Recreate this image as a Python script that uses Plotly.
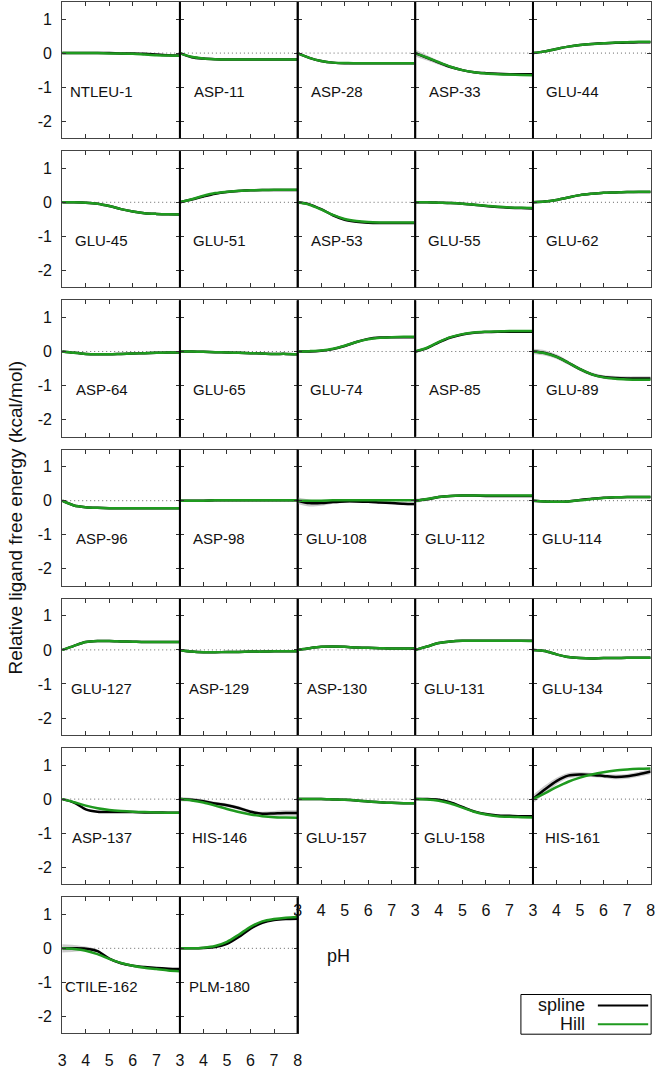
import plotly.graph_objects as go

# ---------------- data ----------------
ph = [3.0, 3.5, 4.0, 4.5, 5.0, 5.5, 6.0, 6.5, 7.0, 7.5, 8.0]

residues = ["NTLEU-1", "ASP-11", "ASP-28", "ASP-33", "GLU-44",
            "GLU-45", "GLU-51", "ASP-53", "GLU-55", "GLU-62",
            "ASP-64", "GLU-65", "GLU-74", "ASP-85", "GLU-89",
            "ASP-96", "ASP-98", "GLU-108", "GLU-112", "GLU-114",
            "GLU-127", "ASP-129", "ASP-130", "GLU-131", "GLU-134",
            "ASP-137", "HIS-146", "GLU-157", "GLU-158", "HIS-161",
            "CTILE-162", "PLM-180"]

spline = {
    "NTLEU-1": [0.00, 0.00, 0.00, 0.00, 0.00, -0.01, -0.01, -0.02, -0.04, -0.06, -0.07],
    "ASP-11": [0.00, -0.12, -0.16, -0.18, -0.19, -0.19, -0.19, -0.19, -0.19, -0.19, -0.19],
    "ASP-28": [0.00, -0.14, -0.23, -0.28, -0.30, -0.30, -0.30, -0.30, -0.30, -0.30, -0.30],
    "ASP-33": [0.00, -0.14, -0.28, -0.41, -0.50, -0.56, -0.59, -0.61, -0.62, -0.62, -0.62],
    "GLU-44": [0.00, 0.05, 0.12, 0.19, 0.24, 0.27, 0.29, 0.30, 0.31, 0.32, 0.32],
    "GLU-45": [0.00, 0.00, -0.01, -0.04, -0.11, -0.20, -0.27, -0.32, -0.34, -0.35, -0.36],
    "GLU-51": [0.00, 0.08, 0.17, 0.25, 0.30, 0.33, 0.35, 0.36, 0.36, 0.36, 0.36],
    "ASP-53": [0.00, -0.06, -0.20, -0.38, -0.51, -0.57, -0.60, -0.61, -0.61, -0.61, -0.61],
    "GLU-55": [0.00, 0.00, -0.01, -0.02, -0.04, -0.07, -0.11, -0.14, -0.16, -0.17, -0.18],
    "GLU-62": [0.00, 0.02, 0.07, 0.14, 0.21, 0.25, 0.28, 0.29, 0.30, 0.30, 0.30],
    "ASP-64": [0.00, -0.04, -0.07, -0.08, -0.08, -0.07, -0.06, -0.05, -0.04, -0.03, -0.03],
    "GLU-65": [0.00, 0.00, -0.01, -0.02, -0.03, -0.04, -0.05, -0.06, -0.07, -0.07, -0.08],
    "GLU-74": [0.00, 0.00, 0.02, 0.07, 0.16, 0.28, 0.37, 0.41, 0.42, 0.42, 0.42],
    "ASP-85": [0.00, 0.10, 0.27, 0.41, 0.50, 0.55, 0.57, 0.58, 0.58, 0.58, 0.58],
    "GLU-89": [0.00, -0.04, -0.15, -0.33, -0.52, -0.67, -0.75, -0.78, -0.79, -0.79, -0.79],
    "ASP-96": [0.00, -0.14, -0.19, -0.21, -0.22, -0.22, -0.22, -0.22, -0.22, -0.22, -0.22],
    "ASP-98": [0.00, 0.00, 0.00, 0.01, 0.01, 0.01, 0.01, 0.01, 0.01, 0.01, 0.01],
    "GLU-108": [0.00, -0.07, -0.07, -0.04, -0.02, -0.02, -0.03, -0.05, -0.07, -0.09, -0.10],
    "GLU-112": [0.00, 0.04, 0.11, 0.14, 0.15, 0.15, 0.14, 0.14, 0.14, 0.14, 0.14],
    "GLU-114": [0.00, -0.02, -0.03, -0.02, 0.02, 0.06, 0.09, 0.10, 0.11, 0.11, 0.11],
    "GLU-127": [0.00, 0.12, 0.23, 0.26, 0.26, 0.25, 0.24, 0.23, 0.23, 0.23, 0.23],
    "ASP-129": [0.00, -0.05, -0.07, -0.07, -0.06, -0.06, -0.05, -0.05, -0.04, -0.04, -0.04],
    "ASP-130": [0.00, 0.05, 0.09, 0.10, 0.09, 0.07, 0.06, 0.05, 0.04, 0.04, 0.04],
    "GLU-131": [0.00, 0.10, 0.20, 0.25, 0.27, 0.27, 0.27, 0.27, 0.27, 0.27, 0.27],
    "GLU-134": [0.00, -0.03, -0.13, -0.21, -0.24, -0.25, -0.24, -0.24, -0.23, -0.23, -0.23],
    "ASP-137": [0.00, -0.10, -0.30, -0.37, -0.38, -0.38, -0.38, -0.39, -0.39, -0.40, -0.40],
    "HIS-146": [0.00, -0.02, -0.06, -0.13, -0.18, -0.26, -0.37, -0.43, -0.42, -0.41, -0.41],
    "GLU-157": [0.00, 0.00, 0.00, -0.01, -0.02, -0.04, -0.07, -0.09, -0.11, -0.12, -0.12],
    "GLU-158": [0.00, 0.00, -0.02, -0.10, -0.23, -0.36, -0.44, -0.48, -0.49, -0.50, -0.50],
    "HIS-161": [0.00, 0.28, 0.53, 0.69, 0.72, 0.71, 0.68, 0.65, 0.67, 0.73, 0.81],
    "CTILE-162": [0.00, 0.00, -0.01, -0.08, -0.30, -0.44, -0.51, -0.55, -0.58, -0.60, -0.61],
    "PLM-180": [0.00, 0.00, 0.01, 0.04, 0.13, 0.33, 0.58, 0.75, 0.83, 0.86, 0.87],
}

hill = {
    "NTLEU-1": [0.00, 0.00, 0.00, 0.00, -0.01, -0.01, -0.02, -0.04, -0.06, -0.07, -0.08],
    "ASP-11": [0.00, -0.11, -0.16, -0.18, -0.19, -0.19, -0.19, -0.19, -0.19, -0.19, -0.19],
    "ASP-28": [0.00, -0.14, -0.23, -0.28, -0.29, -0.30, -0.30, -0.30, -0.30, -0.30, -0.30],
    "ASP-33": [0.00, -0.13, -0.27, -0.40, -0.50, -0.56, -0.60, -0.62, -0.63, -0.64, -0.65],
    "GLU-44": [0.00, 0.05, 0.12, 0.19, 0.24, 0.27, 0.29, 0.31, 0.32, 0.33, 0.33],
    "GLU-45": [0.00, 0.00, -0.01, -0.04, -0.11, -0.20, -0.27, -0.32, -0.34, -0.35, -0.36],
    "GLU-51": [0.00, 0.09, 0.19, 0.27, 0.31, 0.34, 0.35, 0.36, 0.37, 0.37, 0.37],
    "ASP-53": [0.00, -0.07, -0.21, -0.37, -0.49, -0.55, -0.58, -0.59, -0.59, -0.59, -0.59],
    "GLU-55": [0.00, 0.00, -0.01, -0.02, -0.04, -0.07, -0.10, -0.13, -0.15, -0.16, -0.17],
    "GLU-62": [0.00, 0.02, 0.07, 0.14, 0.21, 0.25, 0.28, 0.29, 0.30, 0.31, 0.31],
    "ASP-64": [0.00, -0.04, -0.07, -0.08, -0.08, -0.07, -0.06, -0.05, -0.04, -0.03, -0.03],
    "GLU-65": [0.00, 0.00, -0.01, -0.02, -0.03, -0.04, -0.05, -0.06, -0.07, -0.07, -0.08],
    "GLU-74": [0.00, 0.01, 0.03, 0.08, 0.17, 0.28, 0.36, 0.40, 0.42, 0.43, 0.43],
    "ASP-85": [0.00, 0.11, 0.28, 0.42, 0.51, 0.56, 0.58, 0.59, 0.60, 0.60, 0.60],
    "GLU-89": [0.00, -0.05, -0.16, -0.33, -0.52, -0.67, -0.76, -0.80, -0.82, -0.83, -0.83],
    "ASP-96": [0.00, -0.14, -0.19, -0.21, -0.22, -0.22, -0.22, -0.22, -0.22, -0.22, -0.22],
    "ASP-98": [0.00, 0.00, 0.00, 0.01, 0.01, 0.01, 0.01, 0.01, 0.01, 0.01, 0.01],
    "GLU-108": [0.00, 0.00, 0.00, 0.01, 0.01, 0.01, 0.01, 0.01, 0.01, 0.01, 0.01],
    "GLU-112": [0.00, 0.05, 0.11, 0.14, 0.15, 0.15, 0.15, 0.15, 0.15, 0.15, 0.15],
    "GLU-114": [0.00, -0.02, -0.03, -0.02, 0.01, 0.05, 0.08, 0.10, 0.11, 0.11, 0.11],
    "GLU-127": [0.00, 0.12, 0.23, 0.26, 0.26, 0.25, 0.24, 0.23, 0.23, 0.23, 0.23],
    "ASP-129": [0.00, -0.05, -0.07, -0.07, -0.06, -0.06, -0.05, -0.05, -0.04, -0.04, -0.04],
    "ASP-130": [0.00, 0.05, 0.09, 0.10, 0.09, 0.07, 0.06, 0.05, 0.04, 0.04, 0.04],
    "GLU-131": [0.00, 0.10, 0.20, 0.25, 0.27, 0.27, 0.27, 0.27, 0.27, 0.27, 0.26],
    "GLU-134": [0.00, -0.03, -0.13, -0.21, -0.24, -0.25, -0.24, -0.24, -0.23, -0.23, -0.23],
    "ASP-137": [0.00, -0.09, -0.19, -0.27, -0.32, -0.35, -0.37, -0.38, -0.39, -0.40, -0.40],
    "HIS-146": [0.00, -0.04, -0.10, -0.19, -0.29, -0.38, -0.45, -0.50, -0.53, -0.54, -0.55],
    "GLU-157": [0.00, 0.00, 0.00, -0.01, -0.02, -0.04, -0.07, -0.09, -0.11, -0.12, -0.12],
    "GLU-158": [0.00, -0.01, -0.05, -0.13, -0.25, -0.37, -0.45, -0.50, -0.52, -0.53, -0.54],
    "HIS-161": [0.00, 0.17, 0.35, 0.51, 0.63, 0.72, 0.79, 0.84, 0.87, 0.89, 0.90],
    "CTILE-162": [0.00, -0.02, -0.07, -0.17, -0.31, -0.43, -0.51, -0.57, -0.61, -0.65, -0.67],
    "PLM-180": [0.00, 0.00, 0.02, 0.07, 0.19, 0.40, 0.63, 0.79, 0.86, 0.90, 0.92],
}

# half-width of the grey uncertainty band around the spline
band = {
    "ASP-33": [0.10, 0.08, 0.06, 0.04, 0.03, 0.02, 0.02, 0.02, 0.02, 0.02, 0.02],
    "GLU-89": [0.08, 0.08, 0.07, 0.06, 0.05, 0.05, 0.05, 0.06, 0.06, 0.06, 0.06],
    "GLU-108": [0.10, 0.10, 0.08, 0.05, 0.04, 0.04, 0.04, 0.04, 0.04, 0.04, 0.04],
    "GLU-112": [0.06, 0.05, 0.04, 0.03, 0.03, 0.03, 0.03, 0.03, 0.03, 0.03, 0.03],
    "HIS-146": [0.06, 0.05, 0.05, 0.05, 0.05, 0.05, 0.05, 0.06, 0.07, 0.08, 0.08],
    "HIS-161": [0.12, 0.12, 0.10, 0.08, 0.07, 0.06, 0.06, 0.07, 0.07, 0.07, 0.08],
    "CTILE-162": [0.12, 0.10, 0.06, 0.04, 0.03, 0.03, 0.03, 0.03, 0.03, 0.03, 0.03],
}
default_band = [0.02, 0.02, 0.02, 0.02, 0.02, 0.02, 0.02, 0.02, 0.02, 0.02, 0.02]

xtick_vals = [3, 4, 5, 6, 7, 8]
ytick_vals = [-2, -1, 0, 1]
ytick_text = ["-2", "-1", "0", "1"]

# ---------------- layout geometry (pixels) ----------------
W, H = 666, 1069
NCOL = 5
LEFT = 59.0
PW = 119.3
TOP = 2.0
PITCH = 150.33
PH = 137.3
FONT = "Liberation Sans, Arial, sans-serif"
GREEN = "#1f9a1f"

fig = go.Figure()
layout = {}
shapes = []
annotations = []

n = len(residues)
for k, res in enumerate(residues):
    r, c = divmod(k, NCOL)
    xs = "" if k == 0 else str(k + 1)
    xa, ya = "x" + xs, "y" + xs
    x0 = LEFT + c * PW
    y0 = TOP + r * PITCH
    dom_x = [x0 / W, (x0 + PW) / W]
    dom_y = [1 - (y0 + PH) / H, 1 - y0 / H]

    has_below = (k + NCOL) < n
    last_in_row = (c == NCOL - 1) or (k == n - 1)
    show_x = not has_below
    xt = [str(v) for v in xtick_vals]
    if not last_in_row:
        xt[-1] = ""

    layout["xaxis" + xs] = dict(
        domain=dom_x, range=[3, 8], anchor=ya,
        tickvals=xtick_vals, ticktext=xt, showticklabels=show_x,
        ticks="inside", ticklen=4, tickwidth=1, tickcolor="#333",
        showline=True, mirror="allticks", linecolor="#444", linewidth=1,
        showgrid=False, zeroline=False,
        tickfont=dict(family=FONT, size=16, color="#111"),
        ticklabelstandoff=12,
    )
    layout["yaxis" + xs] = dict(
        domain=dom_y, range=[-2.5, 1.5], anchor=xa,
        tickvals=ytick_vals, ticktext=ytick_text, showticklabels=(c == 0),
        ticks="inside", ticklen=4, tickwidth=1, tickcolor="#333",
        showline=True, mirror="allticks", linecolor="#444", linewidth=1,
        showgrid=False, zeroline=False,
        tickfont=dict(family=FONT, size=16, color="#111"),
        ticklabelstandoff=6,
    )

    s = spline[res]
    h = hill[res]
    b = band.get(res, default_band)
    lo = [v - d for v, d in zip(s, b)]
    hi = [v + d for v, d in zip(s, b)]

    # zero reference line
    shapes.append(dict(type="line", xref=xa, yref=ya, x0=3, x1=8, y0=0, y1=0,
                       line=dict(color="#666", width=1, dash="1px,3px"), layer="below"))

    fig.add_trace(go.Scatter(x=ph, y=lo, xaxis=xa, yaxis=ya, mode="lines",
                             line=dict(width=0, shape="spline", smoothing=0.8),
                             hoverinfo="skip", showlegend=False))
    fig.add_trace(go.Scatter(x=ph, y=hi, xaxis=xa, yaxis=ya, mode="lines",
                             line=dict(width=0, shape="spline", smoothing=0.8),
                             fill="tonexty", fillcolor="rgba(185,185,185,0.75)",
                             hoverinfo="skip", showlegend=False))
    fig.add_trace(go.Scatter(x=ph, y=s, xaxis=xa, yaxis=ya, mode="lines",
                             line=dict(color="black", width=2.5, shape="spline", smoothing=0.8),
                             name="spline", showlegend=False))
    fig.add_trace(go.Scatter(x=ph, y=h, xaxis=xa, yaxis=ya, mode="lines",
                             line=dict(color=GREEN, width=2.5, shape="spline", smoothing=0.8),
                             name="Hill", showlegend=False))

    annotations.append(dict(xref=xa, yref=ya, x=4.67, y=-1.12, text=res,
                            showarrow=False, xanchor="center", yanchor="middle",
                            font=dict(family=FONT, size=15, color="#111")))

# thick interior column separators
for r in range(7):
    y0 = TOP + r * PITCH
    ncols_in_row = min(NCOL, n - r * NCOL)
    for c in range(1, ncols_in_row + (0 if ncols_in_row == NCOL else 1)):
        xx = (LEFT + c * PW) / W
        shapes.append(dict(type="line", xref="paper", yref="paper",
                           x0=xx, x1=xx, y0=1 - (y0 + PH) / H, y1=1 - y0 / H,
                           line=dict(color="black", width=2)))

# axis titles
annotations.append(dict(xref="paper", yref="paper", x=12 / W,
                        y=1 - (TOP + (6 * PITCH + PH) / 2) / H,
                        text="Relative ligand free energy (kcal/mol)", textangle=-90,
                        showarrow=False, xanchor="center", yanchor="middle",
                        font=dict(family=FONT, size=19, color="#111")))
annotations.append(dict(xref="paper", yref="paper", x=339 / W, y=1 - 963 / H,
                        text="pH", showarrow=False, xanchor="center", yanchor="middle",
                        font=dict(family=FONT, size=18, color="#111")))

# legend box (text on left, sample line on right)
lx0, lx1, ly0, ly1 = 524, 656, 1002, 1042
shapes.append(dict(type="rect", xref="paper", yref="paper",
                   x0=lx0 / W, x1=lx1 / W, y0=1 - ly1 / H, y1=1 - ly0 / H,
                   line=dict(color="black", width=1), fillcolor="white"))
for name, col, yy in [("spline", "black", 1013), ("Hill", GREEN, 1032)]:
    annotations.append(dict(xref="paper", yref="paper", x=591 / W, y=1 - yy / H,
                            text=name, showarrow=False, xanchor="right", yanchor="middle",
                            font=dict(family=FONT, size=18, color="#111")))
    shapes.append(dict(type="line", xref="paper", yref="paper",
                       x0=602 / W, x1=653 / W, y0=1 - yy / H, y1=1 - yy / H,
                       line=dict(color=col, width=2)))

fig.update_layout(
    width=W, height=H, autosize=False,
    margin=dict(l=0, r=0, t=0, b=0),
    paper_bgcolor="white", plot_bgcolor="white",
    showlegend=False, shapes=shapes, annotations=annotations,
    **layout,
)

fig.write_html("out.html")
